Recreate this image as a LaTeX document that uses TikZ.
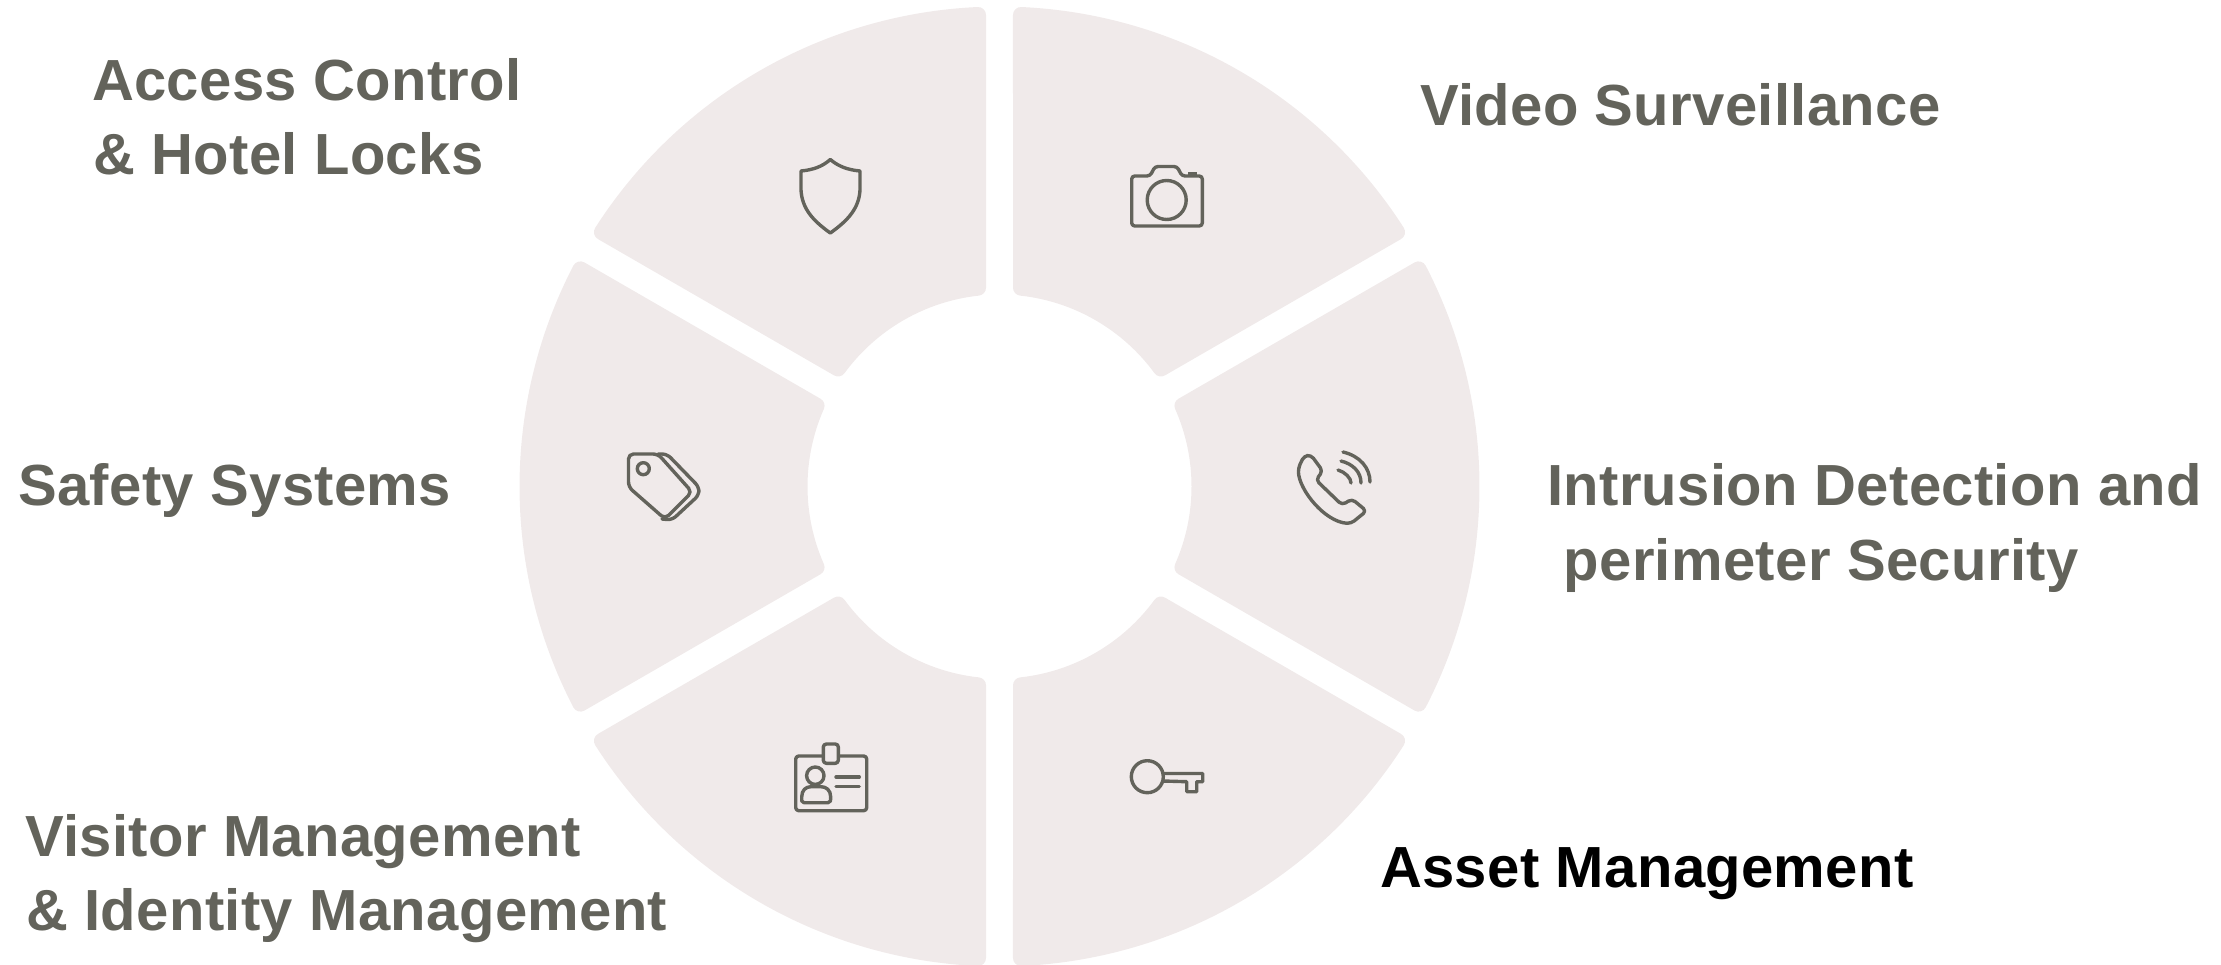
\documentclass[tikz,border=0pt]{standalone}
\usepackage{fontspec}
\setmainfont{Liberation Sans}[LetterSpace=0.6]
\definecolor{segfill}{HTML}{F0EAEA}
\definecolor{inkgrey}{HTML}{63635B}
\tikzset{
  seg/.style={fill=segfill,draw=segfill,line width=16pt,line join=round},
  icon/.style={draw=inkgrey,line width=3.4pt,line join=round,line cap=round},
  lab/.style={anchor=base west,inner sep=0pt,text=inkgrey,font=\fontsize{58}{70}\selectfont\bfseries},
}
\begin{document}
\begin{tikzpicture}[x=1pt,y=-1pt]
\useasboundingbox (0,0) rectangle (2221,965);
\begin{scope}[shift={(999.5,486.5)}]
\foreach \t in {60,0,-60,-120,180,120}{
  \draw[seg] ({\t-30+2.61}:472pt) arc[start angle={\t-30+2.61},end angle={\t+30-2.61},radius=472pt]
     -- ({\t+30-6.17}:200pt) arc[start angle={\t+30-6.17},end angle={\t-30+6.17},radius=200pt] -- cycle;
}
\end{scope}
% shield
\draw[icon] (830.3,159.5) .. controls (822,167) and (812,170) .. (801,171) -- (801,190) .. controls (802,208) and (812,220) .. (830.3,233) .. controls (848.6,220) and (859,208) .. (860,190) -- (860,171) .. controls (849,170) and (839,167) .. cycle;
% camera
\draw[icon,rounded corners=3pt] (1131.7,226) -- (1131.7,176) -- (1150,176) -- (1155,166.5) -- (1177,166.5) -- (1182,176) -- (1202.3,176) -- (1202.3,226) -- cycle;
\draw[icon] (1166.7,200) circle[radius=19.5pt];
\fill[inkgrey] (1188.3,172.5) rectangle (1197.3,176);
% tag
\draw[icon,rounded corners=5pt] (628.5,454) -- (658,454) -- (692,492) -- (665,519) -- (628.5,487) -- cycle;
\draw[icon,rounded corners=5pt] (658,454) -- (667,454) -- (699,487) -- (699,495) -- (672,520) -- (662,519);
\draw[icon] (643.3,468.7) circle[radius=6pt];
% phone
\draw[icon,rounded corners=4pt] (1298.3,468) .. controls (1299,490) and (1325,522) .. (1351,523.5) -- (1366.5,511) -- (1352,499) -- (1342,505) -- (1316,480) -- (1322.7,471) -- (1311,455) -- (1304,456) -- cycle;
\draw[icon] (1338,470) .. controls (1345,472) and (1351,478) .. (1351,483);
\draw[icon] (1341,461) .. controls (1353,464) and (1361,472) .. (1361,483);
\draw[icon] (1343,452) .. controls (1360,456) and (1370,468) .. (1370,482);
% labels
\node[lab] (access) at (92,100.5) {Access Control};
\node[lab] (hotel) at (93,174.5) {\& Hotel Locks};
\node[lab] (video) at (1420,125.5) {Video Surveillance};
\node[lab] (safety) at (18,505.5) {Safety Systems};
\node[lab] (intrusion) at (1547,505.5) {Intrusion Detection and};
\node[lab] (perimeter) at (1563.5,580.5) {perimeter Security};
\node[lab] (visitor) at (25,856) {Visitor Management};
\node[lab] (identity) at (26,930) {\& Identity Management};
\node[lab,text=black] (asset) at (1380,887) {Asset Management};
% badge
\draw[icon,rounded corners=3pt] (795.7,756) rectangle (866.7,810.7);
\draw[icon,fill=segfill,rounded corners=3pt] (823.3,744) rectangle (838.3,763.3);
\draw[icon] (815.3,775.7) circle[radius=8.7pt];
\draw[icon] (804,802.7) .. controls (801,802.7) and (801.7,800) .. (801.7,797) .. controls (801.7,790) and (806,786.7) .. (811,786.7) -- (821,786.7) .. controls (826,786.7) and (830.7,790) .. (830.7,797) .. controls (830.7,800) and (831,802.7) .. (828,802.7) -- cycle;
\draw[icon] (836,777) -- (859.3,777) (836,786.3) -- (859.3,786.3);
% key
\draw[icon] (1147.3,776.7) circle[radius=16pt];
\draw[icon] (1162.7,773.5) -- (1202.7,773.5) -- (1202.7,781.7) -- (1196.7,781.7) -- (1196.7,791.7) -- (1186.7,791.7) -- (1186.7,781.7) -- (1162.7,781);
\end{tikzpicture}
\end{document}
